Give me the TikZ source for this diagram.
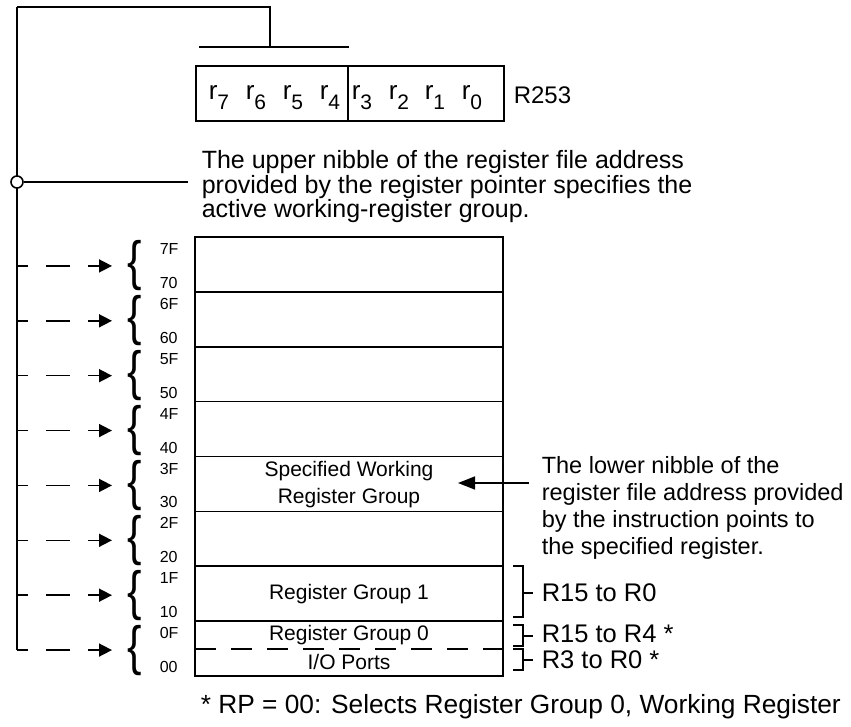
\documentclass[tikz,border=0pt]{standalone}
\usepackage{fontspec}
\setmainfont{Liberation Sans}
\usetikzlibrary{arrows.meta}
\begin{document}
\begin{tikzpicture}[x=1pt,y=-1pt,line width=1.6pt,
  txt/.style={font=\fontsize{24}{26.5}\selectfont,inner sep=0pt,align=left,anchor=west},
  uptxt/.style={font=\fontsize{25}{24.5}\selectfont,inner sep=0pt,align=left,anchor=west},
  rtxt/.style={font=\fontsize{23.5}{26.8}\selectfont,inner sep=0pt,align=left,anchor=west},
  lbl/.style={font=\fontsize{25.5}{26}\selectfont,inner sep=0pt,anchor=west},
  foot/.style={font=\fontsize{26.3}{28}\selectfont,inner sep=0pt,anchor=west},
  addr/.style={font=\fontsize{16}{16}\selectfont,inner sep=0pt,anchor=west},
  boxlbl/.style={font=\fontsize{21}{27}\selectfont,inner sep=0pt,align=center},
  rowbox/.style={draw,minimum width=308pt,minimum height=54.875pt,inner sep=0pt},
  regbox/.style={draw,minimum height=55pt,inner sep=0pt,anchor=north west},
  rlbl/.style={font=\fontsize{26}{26}\selectfont,inner sep=0pt,anchor=base west},
  bracech/.style={font=\fontsize{54}{54}\selectfont,inner sep=0pt,xscale=0.8,transform shape},
  darr/.style={dash pattern=on 24pt off 18pt,dash phase=13pt,-{Triangle[length=13pt,width=13pt]}},
  sarr/.style={-{Triangle[length=17pt,width=13pt]}},
  dot/.style={circle,draw,fill=white,minimum size=12pt,inner sep=0pt}]
\useasboundingbox (0,0) rectangle (851,727);
% register R253
\node[regbox,minimum width=152pt] (upper) at (195,65) {};
\node[regbox,minimum width=156pt] (lower) at (347,65) {};
\foreach \k/\x in {7/208,6/245,5/282,4/319,3/351,2/388,1/424,0/461}
  \node[rlbl] (r\k) at (\x,100) {r\raisebox{-10pt}{\fontsize{21}{21}\selectfont\k}};
\node[txt] (rname) at (513,95) {R253};
% top connector
\coordinate (tl) at (17,7);
\coordinate (tdrop) at (270,47);
\coordinate (nibL) at (199,47);
\coordinate (nibR) at (349,47);
\draw (tl) -| (tdrop);
\draw (nibL) -- (nibR);
% memory rows
\foreach \i in {0,...,7} {
  \pgfmathsetmacro\t{237+54.875*\i}
  \pgfmathsetmacro\b{\t+54.875}
  \pgfmathsetmacro\c{\t+27.4375}
  \pgfmathtruncatemacro\n{7-\i}
  \node[rowbox] (row\n) at (349,\c) {};
  \node[addr] (hi\n) at (159,\t+12) {\n F};
  \node[addr] (lo\n) at (159,\b-9) {\n 0};
  \node[bracech] (br\n) at (135,\c+1.5) {\{};
  \coordinate (src\n) at (17,\c+1.5);
  \coordinate (dst\n) at (112,\c+1.5);
  \draw[darr] (src\n) -- (dst\n);
}
% left bus line and tap
\draw (tl) -- (src0);
\coordinate (tapEnd) at (188,182);
\node[dot] (tap) at (17,182) {};
\draw (tap) -- (tapEnd);
\node[uptxt] (uptext) at (201,187) {The upper nibble of the register file address\\provided by the register pointer specifies the\\active working-register group.};
% row labels
\node[boxlbl] (swrg) at ([yshift=-1pt]row3) {Specified Working\\Register Group};
\node[boxlbl] (rg1) at (row1) {Register Group 1};
\coordinate (dL) at (195,649);
\coordinate (dR) at (503,649);
\draw[dash pattern=on 21pt off 15pt] (dL) -- (dR);
\node[boxlbl] (rg0) at (349,635) {Register Group 0};
\node[boxlbl] (iop) at (349,662) {I/O Ports};
% lower nibble text and arrow
\node[rtxt] (lowtext) at (541,508) {The lower nibble of the\\register file address provided\\by the instruction points to\\the specified register.};
\coordinate (aS) at (529,483);
\coordinate (aE) at (458,483);
\draw[sarr] (aS) -- (aE);
% right brackets
\draw (513,566) -- (523,566) -- (523,617) -- (513,617);
\coordinate (k1a) at (523,593); \coordinate (k1b) at (533,593);
\draw (k1a) -- (k1b);
\node[lbl] (l1) at (541,593) {R15 to R0};
\draw (513,625) -- (523,625) -- (523,646) -- (513,646);
\coordinate (k2a) at (523,636); \coordinate (k2b) at (533,636);
\draw (k2a) -- (k2b);
\node[lbl] (l2) at (541,634) {R15 to R4 *};
\draw (513,649) -- (523,649) -- (523,670) -- (513,670);
\coordinate (k3a) at (523,660); \coordinate (k3b) at (533,660);
\draw (k3a) -- (k3b);
\node[lbl] (l3) at (541,660) {R3 to R0 *};
% footer
\node[foot] (fn) at (200,707) {* RP = 00: Selects Register Group 0, Working Register};
\end{tikzpicture}
\end{document}
